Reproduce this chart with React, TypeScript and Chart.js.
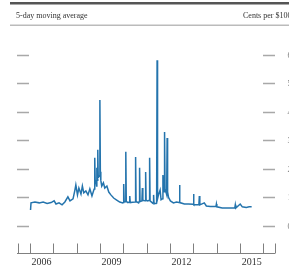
import React, { useEffect, useRef } from "react";
import { Chart, registerables } from "chart.js";

Chart.register(...registerables);

const HEADER_LEFT = "5-day moving average";
const HEADER_RIGHT = "Cents per $100";

const LABEL_YEARS = [2006.5, 2009.5, 2012.5, 2015.5];
const TICK_YEARS = [2005.5, 2006, 2007, 2008, 2009, 2010, 2011, 2012, 2013, 2014, 2015, 2016, 2016.5];
const Y_TICKS = [0, 1, 2, 3, 4, 5, 6];
const Y_TICK_LABELS = ["0", "1", "2", "3", "4", "5", "6"];

const DATES = [
  2006.03, 2006.05, 2006.22, 2006.4, 2006.57, 2006.74, 2006.91, 2007.04, 2007.12, 2007.25,
  2007.38, 2007.5, 2007.63, 2007.72, 2007.85, 2007.93, 2007.97, 2008.04, 2008.1, 2008.19,
  2008.25, 2008.31, 2008.4, 2008.49, 2008.57, 2008.66, 2008.74, 2008.76, 2008.78, 2008.8,
  2008.83, 2008.86, 2008.87, 2008.89, 2008.91, 2008.93, 2008.98, 2009.0, 2009.02, 2009.04,
  2009.08, 2009.15, 2009.21, 2009.3, 2009.38, 2009.47, 2009.59, 2009.72, 2009.85, 2009.98,
  2010.0, 2010.02, 2010.04, 2010.09, 2010.11, 2010.13, 2010.2, 2010.26, 2010.28, 2010.3,
  2010.4, 2010.51, 2010.53, 2010.55, 2010.66, 2010.68, 2010.7, 2010.72, 2010.8, 2010.82,
  2010.84, 2010.94, 2010.96, 2010.98, 2011.05, 2011.11, 2011.13, 2011.15, 2011.26, 2011.28,
  2011.3, 2011.32, 2011.43, 2011.45, 2011.47, 2011.51, 2011.58, 2011.62, 2011.68, 2011.7,
  2011.75, 2011.77, 2011.79, 2011.86, 2011.88, 2011.9, 2011.94, 2012.02, 2012.15, 2012.28,
  2012.39, 2012.41, 2012.43, 2012.62, 2012.79, 2012.99, 2013.01, 2013.03, 2013.24, 2013.26,
  2013.28, 2013.47, 2013.56, 2013.73, 2013.97, 2013.99, 2014.01, 2014.24, 2014.5, 2014.78,
  2014.8, 2014.82, 2015.01, 2015.1, 2015.27, 2015.39, 2015.5,
];

const VALUES = [
  0.56, 0.81, 0.84, 0.81, 0.84, 0.79, 0.82, 0.88, 0.77, 0.81,
  0.74, 0.84, 1.02, 0.88, 0.95, 1.26, 1.44, 1.09, 1.33, 1.12,
  1.4, 1.16, 1.23, 1.09, 1.3, 1.05, 1.26, 1.3, 2.39, 1.5,
  1.61, 1.4, 2.04, 1.6, 2.67, 1.7, 1.75, 4.42, 1.9, 1.6,
  1.4, 1.51, 1.33, 1.4, 1.19, 1.09, 0.98, 0.91, 0.84, 0.81,
  0.82, 1.47, 0.84, 0.85, 2.6, 0.86, 0.82, 0.84, 1.05, 0.82,
  0.83, 0.84, 2.42, 0.86, 0.81, 0.85, 2.04, 0.86, 0.88, 1.33,
  0.9, 0.88, 1.89, 0.9, 0.88, 0.9, 2.39, 0.88, 0.8, 0.82,
  1.09, 0.78, 0.8, 5.82, 0.95, 1.09, 1.26, 0.92, 0.95, 1.79,
  1.2, 3.3, 1.3, 1.1, 3.09, 1.2, 1.0, 0.88, 0.81, 0.84,
  0.82, 1.44, 0.82, 0.77, 0.77, 0.76, 1.12, 0.74, 0.74, 1.05,
  0.74, 0.81, 0.7, 0.68, 0.68, 0.77, 0.67, 0.63, 0.63, 0.64,
  0.74, 0.63, 0.77, 0.67, 0.65, 0.67, 0.67,
];

const decorPlugin = {
  id: "decor",
  beforeDatasetsDraw(chart: any) {
    const { ctx, chartArea, scales } = chart;
    const xs = scales.x;
    const ys = scales.y;
    ctx.save();
    ctx.fillStyle = "#555555";
    ctx.fillRect(10, 2, 279, 2.5);
    ctx.fillStyle = "#333333";
    ctx.font = "8px 'Liberation Serif'";
    ctx.textBaseline = "alphabetic";
    ctx.textAlign = "left";
    ctx.fillText(HEADER_LEFT, 16, 18);
    ctx.fillText(HEADER_RIGHT, 243, 18);
    ctx.fillStyle = "#bbbbbb";
    ctx.fillRect(10, 24.5, 279, 1.5);
    ctx.strokeStyle = "#a8a8a8";
    ctx.lineWidth = 1.5;
    Y_TICKS.forEach((v, i) => {
      const py = Math.round(ys.getPixelForValue(v)) + 0.5;
      ctx.beginPath();
      ctx.moveTo(chartArea.left, py);
      ctx.lineTo(chartArea.left + 12, py);
      ctx.moveTo(chartArea.right - 12, py);
      ctx.lineTo(chartArea.right, py);
      ctx.stroke();
      ctx.fillStyle = "#777777";
      ctx.font = "8px 'Liberation Serif'";
      ctx.textBaseline = "middle";
      ctx.fillText(Y_TICK_LABELS[i], 287.5, py);
    });
    ctx.strokeStyle = "#808080";
    ctx.lineWidth = 1;
    const by = Math.round(chartArea.bottom) + 0.5;
    ctx.beginPath();
    ctx.moveTo(chartArea.left, by);
    ctx.lineTo(chartArea.right, by);
    TICK_YEARS.forEach((yr) => {
      const px = Math.round(xs.getPixelForValue(yr)) + 0.5;
      ctx.moveTo(px, by);
      ctx.lineTo(px, by - 10);
    });
    ctx.stroke();
    ctx.restore();
  },
};

export default function App() {
  const ref = useRef<HTMLCanvasElement>(null);
  useEffect(() => {
    document.body.style.margin = "0";
    const canvas = ref.current;
    if (!canvas) return;
    const chart = new Chart(canvas, {
      type: "line",
      data: {
        datasets: [
          {
            data: DATES.map((d, i) => ({ x: d, y: VALUES[i] })),
            borderColor: "#2474ad",
            borderWidth: 1.5,
            pointRadius: 0,
            tension: 0,
            fill: false,
          },
        ],
      },
      options: {
        animation: false,
        responsive: false,
        maintainAspectRatio: false,
        layout: { padding: { left: 17, right: 14, top: 55, bottom: 4 } },
        plugins: { legend: { display: false }, tooltip: { enabled: false }, title: { display: false } },
        scales: {
          x: {
            type: "linear",
            min: 2005.45,
            max: 2016.5,
            grid: { display: false, drawTicks: false },
            border: { display: false },
            afterBuildTicks: (axis: any) => {
              axis.ticks = LABEL_YEARS.map((v) => ({ value: v }));
            },
            afterFit: (axis: any) => {
              axis.height = 15;
            },
            ticks: {
              autoSkip: false,
              maxRotation: 0,
              padding: 3,
              color: "#333333",
              font: { family: "'Liberation Serif'", size: 10 },
              callback: (v: any) => String(Math.floor(Number(v))),
            },
          },
          y: {
            type: "linear",
            min: -0.95,
            max: 6,
            display: false,
          },
        },
      },
      plugins: [decorPlugin],
    } as any);
    return () => chart.destroy();
  }, []);
  return (
    <div style={{ width: 289, height: 272, position: "relative", background: "#ffffff" }}>
      <canvas ref={ref} width={289} height={272} style={{ display: "block", width: 289, height: 272 }} />
    </div>
  );
}
